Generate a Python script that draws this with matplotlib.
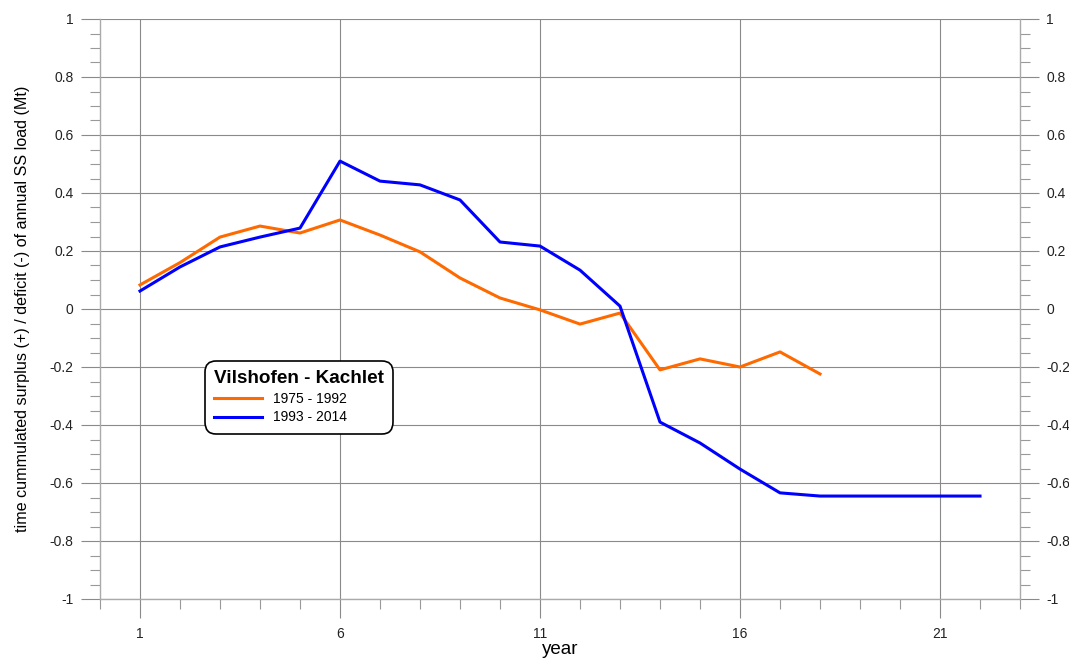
import matplotlib
matplotlib.use("Agg")
import matplotlib.pyplot as plt
from matplotlib.ticker import MultipleLocator, FixedLocator

years_a = list(range(1, 19))
surplus_1975_1992 = [0.083, 0.16, 0.248, 0.286, 0.262, 0.307, 0.255, 0.197, 0.107, 0.038,
                     -0.003, -0.052, -0.014, -0.21, -0.172, -0.2, -0.148, -0.224]
years_b = list(range(1, 23))
surplus_1993_2014 = [0.062, 0.145, 0.214, 0.248, 0.279, 0.51, 0.441, 0.428, 0.376, 0.231,
                     0.217, 0.134, 0.01, -0.39, -0.462, -0.552, -0.634, -0.645, -0.645,
                     -0.645, -0.645, -0.645]
label_a = "1975 - 1992"
label_b = "1993 - 2014"
legend_title = "Vilshofen - Kachlet"
xticks = [1, 6, 11, 16, 21]
yticks = [-1, -0.8, -0.6, -0.4, -0.2, 0, 0.2, 0.4, 0.6, 0.8, 1]
ytick_labels = ["-1", "-0.8", "-0.6", "-0.4", "-0.2", "0", "0.2", "0.4", "0.6", "0.8", "1"]

plt.rcParams['font.family'] = ['Liberation Sans', 'DejaVu Sans']

fig = plt.figure(figsize=(10.69, 6.63), dpi=100)
ax = fig.add_axes([100/1069, 64/663, 920/1069, 580/663])

grid_c = '#8a8a8a'
ax.set_xlim(0, 23)
ax.set_ylim(-1, 1)
ax.xaxis.set_major_locator(FixedLocator(xticks))
ax.xaxis.set_minor_locator(MultipleLocator(1))
ax.yaxis.set_major_locator(FixedLocator(yticks))
ax.yaxis.set_minor_locator(MultipleLocator(0.05))
ax.set_yticklabels(ytick_labels)
ax.set_xticklabels([str(v) for v in xticks])

ax.grid(True, which='major', color=grid_c, linewidth=0.8)
ax.set_axisbelow(True)
for s in ['left', 'right', 'bottom']:
    ax.spines[s].set_color('#aaaaaa')
    ax.spines[s].set_linewidth(1.0)
ax.spines['top'].set_visible(False)

ax.tick_params(which='major', direction='out', length=14, width=0.8, color=grid_c,
               labelsize=10, labelcolor='#222222', pad=6)
ax.tick_params(which='minor', direction='out', length=7, width=0.8, color='#999999')
ax.tick_params(axis='y', which='both', left=True, right=True, labelleft=True, labelright=True)
ax.tick_params(axis='y', which='major', pad=5)
ax.tick_params(axis='x', which='major', pad=6)

ax.plot(years_a, surplus_1975_1992, color='#FF6A00', linewidth=2.2, label=label_a, zorder=3)
ax.plot(years_b, surplus_1993_2014, color='#0000FF', linewidth=2.2, label=label_b, zorder=3)

ax.set_xlabel('year', fontsize=13.5, labelpad=0)
ax.set_ylabel('time cummulated surplus (+) / deficit (-) of annual SS load (Mt)', fontsize=11.6, labelpad=14)

leg = ax.legend(loc='upper left', bbox_to_anchor=(0.11, 0.418), title=legend_title,
                title_fontproperties={'weight': 'bold', 'size': 13.6}, fontsize=10,
                frameon=True, fancybox=True, edgecolor='black', framealpha=1,
                alignment='left', handlelength=3.4, borderpad=0.45, labelspacing=0.35)
leg.get_frame().set_linewidth(1.2)
leg.get_frame().set_boxstyle('round,pad=0.2,rounding_size=0.8')

fig.savefig('out.png', dpi=100)
